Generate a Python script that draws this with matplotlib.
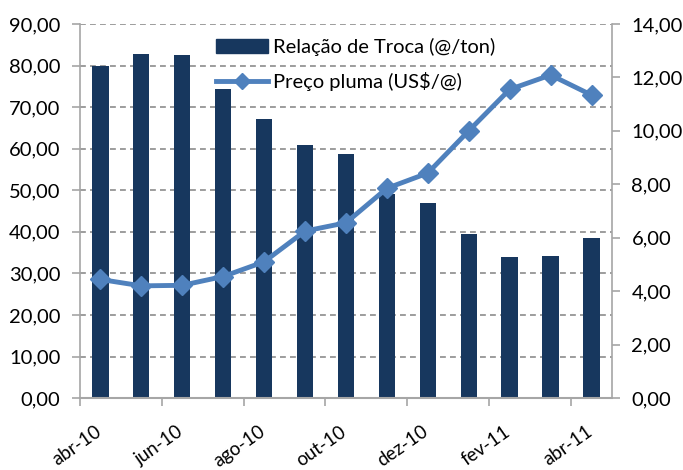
import matplotlib
matplotlib.use("Agg")
import matplotlib.pyplot as plt
from matplotlib.lines import Line2D
from matplotlib.patches import Patch
import numpy as np

months = ["abr-10", "mai-10", "jun-10", "jul-10", "ago-10", "set-10", "out-10",
          "nov-10", "dez-10", "jan-11", "fev-11", "mar-11", "abr-11"]
relacao_troca = [80.0, 82.8, 82.5, 74.3, 67.1, 60.9, 58.7, 49.1, 46.9, 39.4, 34.0, 34.3, 38.5]
preco_pluma = [4.44, 4.20, 4.22, 4.55, 5.10, 6.25, 6.56, 7.85, 8.42, 10.0, 11.55, 12.09, 11.34]
left_ticks = [0, 10, 20, 30, 40, 50, 60, 70, 80, 90]
right_ticks = [0, 2, 4, 6, 8, 10, 12, 14]

plt.rcParams['font.family'] = ['Lato', 'DejaVu Sans']
FS = 14.5
BAR = "#17375E"
LINE = "#4F81BD"
GRID = "#8C8C8C"
SPINE = "#A6A6A6"

fig = plt.figure(figsize=(6.83, 4.70), dpi=100)
ax = fig.add_axes([0.117, 0.153, 0.779, 0.796])
x = np.arange(len(months))

ax.bar(x, relacao_troca, width=0.4, color=BAR, zorder=2)
ax.set_ylim(0, 90)
ax.set_xlim(-0.5, len(months) - 0.5)
ax.set_yticks(left_ticks)
ax.set_yticklabels([f"{v:.2f}".replace(".", ",") for v in left_ticks], fontsize=FS)
for v in left_ticks[1:]:
    ax.axhline(v, color=GRID, lw=1.2, ls=(0, (3.5, 2.5)), zorder=1)

# x ticks: marks at category boundaries every 2, labels at centers every 2
ax.set_xticks(np.arange(-0.5, len(months), 2))
ax.set_xticklabels([])
ax.set_xticks(x[::2] + 0.05, minor=True)
ax.set_xticklabels(months[::2], minor=True, rotation=35, ha='right', va='baseline',
                   fontsize=13.5, rotation_mode='anchor')
ax.tick_params(axis='x', which='major', length=6, color=SPINE, width=1.2)
ax.tick_params(axis='x', which='minor', length=0, pad=26)
ax.tick_params(axis='y', length=6, color=SPINE, width=1.2, pad=8)

ax.spines['top'].set_visible(False)
ax.spines['left'].set_color(SPINE)
ax.spines['bottom'].set_color(SPINE)
ax.spines['right'].set_visible(False)
ax.spines['left'].set_linewidth(1.2)
ax.spines['bottom'].set_linewidth(1.5)

ax2 = ax.twinx()
ax2.plot(x, preco_pluma, color=LINE, lw=3.5, marker='D', markersize=10,
         markerfacecolor=LINE, markeredgecolor=LINE, zorder=3)
ax2.set_ylim(0, 14)
ax2.set_yticks(right_ticks)
ax2.set_yticklabels([f"{v:.2f}".replace(".", ",") for v in right_ticks], fontsize=FS)
ax2.tick_params(axis='y', length=6, color=SPINE, width=1.2, pad=8)
for s in ['top', 'left', 'bottom']:
    ax2.spines[s].set_visible(False)
ax2.spines['right'].set_color(SPINE)
ax2.spines['right'].set_linewidth(1.2)

handles = [Patch(facecolor=BAR, edgecolor=BAR),
           Line2D([0], [0], color=LINE, lw=3.5, marker='D', markersize=8)]
labels = ["Relação de Troca (@/ton)", "Preço pluma (US$/@)"]
leg = ax2.legend(handles, labels, loc='upper left', bbox_to_anchor=(0.24, 0.985),
                 frameon=False, fontsize=FS, handlelength=2.6, handletextpad=0.25,
                 labelspacing=0.8, borderaxespad=0)

fig.savefig("out.png", dpi=100)
